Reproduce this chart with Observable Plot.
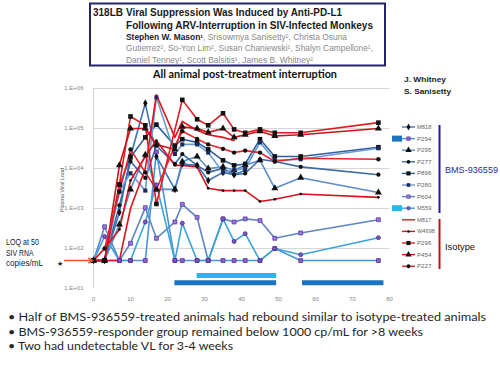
<!DOCTYPE html>
<html><head><meta charset="utf-8">
<script src="https://cdn.jsdelivr.net/npm/d3@7"></script>
<script src="https://cdn.jsdelivr.net/npm/@observablehq/plot@0.6"></script>
<style>
html,body{margin:0;padding:0;background:#fff;}
#page{position:relative;width:500px;height:373px;overflow:hidden;background:#fff;}
#chart{position:absolute;left:0;top:80px;}
#overlay{position:absolute;left:0;top:0;pointer-events:none;}
</style></head><body>
<div id="page"><div id="chart"></div><svg id="overlay" width="500" height="373"></svg></div>
<script>
// ---------------- data ----------------
const days = [0, 3, 7, 10, 14, 17, 22, 24, 28, 31, 35, 38, 41, 45, 49, 56, 77];
const animals = ["M818","P294","P295","P277","P896","P280","P604","M559","M817","W4698","P296","P454","P227"];
const groups  = ["BMS-936559","BMS-936559","BMS-936559","BMS-936559","BMS-936559","BMS-936559","BMS-936559","BMS-936559","Isotype","Isotype","Isotype","Isotype","Isotype"];
const N = null;
const vlM818  = [50, 50, 800, 20000, 430000, 20000, 3000, 13000, 12000, 5000, 8000, 7000, 9000, N, N, N, N];
const vlP294  = [50, 50, 50, 50, 50, 26000, 50, 50, 50, 50, 50, 50, 50, 50, 100, 50, 50];
const vlP295  = [50, 50, 400, 3000, 22000, 3000, 3000, 15000, 20000, 10000, 11000, 9000, 12000, 16000, 3200, 5900, 2500];
const vlP277  = [50, 50, 1200, 15000, 5800, 37000, 13000, 23000, 12000, 8000, 10000, 7000, 7500, 17000, 15000, 11000, 7000];
const vlP896  = [50, 50, 3900, 19000, 60000, 125000, 37000, 54000, 45000, 30000, 16000, 12000, 13000, 54000, 20000, 20000, 34000];
const vlP280  = [50, 50, 2700, 7600, 2800, 600000, 23000, 40000, 40000, 25000, 8000, 9000, 10000, 45000, 16000, 17000, 32000];
const vlP604  = [50, 350, 50, 135, 1050, 180, 460, 1270, 600, 50, 550, 460, 550, 500, 180, 245, 525];
const vlM559  = [50, 200, 50, 50, 460, 3900, 50, 430, 50, 50, 550, 150, 235, 50, 100, 70, 186];
const vlM817  = [50, 50, 50, 1000, 10000, 700000, 60000, 150000, 90000, 70000, 60000, 50000, N, N, N, N, N];
const vlW4698 = [50, 100, 300, 5000, 20000, 50000, 12000, 12000, 11000, 3200, 2800, 2800, 2800, 1500, 1700, 2300, 1900];
const vlP296  = [50, 50, 4000, 200000, 120000, 1300, N, 520000, 170000, 120000, 240000, 95000, 78000, 95000, 78000, 78000, 140000];
const vlP454  = [50, 50, 12000, 100000, 100000, 40000, 30000, 110000, 100000, 80000, 100000, 60000, 70000, 85000, 65000, 70000, 100000];
const vlP227  = [50, 100, 2600, 30000, 8000, 3000, 37000, 85000, 55000, 40000, 31000, 25000, 28000, 25000, 15000, 18000, 17000];
const series = [vlM818, vlP294, vlP295, vlP277, vlP896, vlP280, vlP604, vlM559, vlM817, vlW4698, vlP296, vlP454, vlP227];
const loq = 50;
const xTicks = [0, 10, 20, 30, 40, 50, 60, 70, 80];
const yTicks = [10, 100, 1000, 10000, 100000, 1000000];
const gridValues = [100, 1000, 10000, 100000, 1000000];
// periods of undetectable viral load (days)
const undetectAnimal = ["M559", "P294", "P294"];
const undetectStart  = [28, 22, 56.5];
const undetectEnd    = [49.5, 49.5, 78.5];

const titleLine1 = "Viral Suppression Was Induced by Anti-PD-L1";
const titleLine2 = "Following ARV-Interruption in SIV-Infected Monkeys";
const authorLead = "Stephen W. Mason¹";
const authors3 = ", Srisowmya Sanisetty², Christa Osuna";
const authors4 = "Gutierrez², So-Yon Lim², Susan Chaniewski¹, Shalyn Campellone¹,";
const authors5 = "Daniel Tenney¹, Scott Balsitis¹, James B. Whitney²";
const heading = "All animal post-treatment interruption";
const credits = ["J. Whitney", "S. Sanisetty"];
const loqNote = ["LOQ at 50", "SIV RNA", "copies/mL"];
const bullets = [
  "• Half of BMS-936559-treated animals had rebound similar to isotype-treated animals",
  "• BMS-936559-responder group remained below 1000 cp/mL for >8 weeks",
  "• Two had undetectable VL for 3-4 weeks"
];

// ---------------- styles ----------------
const style = {
  M818:  {line:"#3f73b8", symbol:"diamond",  fill:"#111", r:2.3},
  P294:  {line:"#4b93d8", symbol:"square",   fill:"#8a63cf", stroke:"#5a2f9e", r:2.2},
  P295:  {line:"#5b8dc9", symbol:"triangle", fill:"#111", r:2.6},
  P277:  {line:"#3c6aa6", symbol:"circle",   fill:"#111", r:2.1},
  P896:  {line:"#2f5f9f", symbol:"square",   fill:"#111", r:2.6},
  P280:  {line:"#6a9ad3", symbol:"square",   fill:"#1c2a5a", r:2.3},
  P604:  {line:"#5d84c4", symbol:"square",   fill:"#9a78d8", stroke:"#5e3aa6", r:2.2},
  M559:  {line:"#3aa3dc", symbol:"circle",   fill:"#7e56c6", stroke:"#4a2a8a", r:2.0},
  M817:  {line:"#e3131c", symbol:null},
  W4698: {line:"#d9121b", symbol:"circle",   fill:"#111", r:1.4},
  P296:  {line:"#e01a22", symbol:"square",   fill:"#111", r:2.6},
  P454:  {line:"#cf1119", symbol:"triangle", fill:"#111", r:2.6},
  P227:  {line:"#e5232b", symbol:"circle",   fill:"#111", r:2.2}
};
const barColor = {M559:"#2cb5e8", P294:"#1a73bd"};
const barLevel = {M559:21, P294:14};

// ---------------- build table ----------------
const rows = [];
animals.forEach((a, i) => series[i].forEach((v, j) => {
  if (v != null) rows.push({animal: a, group: groups[i], day: days[j], vl: v});
}));
const bars = undetectAnimal.map((a, i) => ({animal: a, start: undetectStart[i], end: undetectEnd[i]}));

const lineMarks = [];
const order = animals.map((a, i) => i).sort((a, b) => (groups[a] === "Isotype") - (groups[b] === "Isotype"));
for (const i of order) {
  const a = animals[i];
  lineMarks.push(Plot.line(rows.filter(d => d.animal === a), {x: "day", y: "vl", stroke: style[a].line, strokeWidth: 1.6}));
}
const dotMarks = [];
for (const i of order) {
  const a = animals[i], s = style[a];
  if (!s.symbol) continue;
  dotMarks.push(Plot.dot(rows.filter(d => d.animal === a), {x: "day", y: "vl", symbol: s.symbol, r: s.r, fill: s.fill, stroke: s.stroke || "none", strokeWidth: 0.8}));
}
const barMarks = Object.keys(barColor).map(a =>
  Plot.ruleY(bars.filter(b => b.animal === a), {x1: "start", x2: "end", y: barLevel[a], stroke: barColor[a], strokeWidth: 5}));

const chart = Plot.plot({
  width: 500, height: 232,
  marginLeft: 93, marginRight: 111, marginTop: 8, marginBottom: 24,
  style: {background: "transparent", fontFamily: "Liberation Sans, Arial, sans-serif", fontSize: "6px", color: "#858585", overflow: "visible"},
  x: {domain: [0, 80], ticks: xTicks, tickSize: 0, tickPadding: 8, label: null, tickFormat: d => String(d)},
  y: {type: "log", domain: [10, 1000000], ticks: yTicks, tickSize: 0, tickPadding: 10, label: null,
      tickFormat: d => "1.E+0" + Math.round(Math.log10(d))},
  marks: [
    Plot.ruleY(gridValues, {stroke: "#d6d6d6", strokeWidth: 1}),
    Plot.ruleX([0], {stroke: "#d0d0d0", strokeWidth: 1}),
    ...barMarks,
    ...lineMarks,
    ...dotMarks,
    Plot.arrow([loq], {x1: -7.8, x2: -0.2, y1: d => d, y2: d => d, stroke: "#e55a2b", strokeWidth: 1.4, headLength: 5})
  ]
});
document.getElementById("chart").appendChild(chart);

// ---------------- overlay (title, legend, notes) ----------------
const ov = d3.select("#overlay");
function txt(x, y, s, o = {}) {
  const t = ov.append("text").attr("x", x).attr("y", y)
    .attr("font-family", o.family || "Liberation Sans, Arial, sans-serif")
    .attr("font-size", o.size || 10).attr("font-weight", o.weight || "normal")
    .attr("fill", o.fill || "#222").attr("text-anchor", o.anchor || "start");
  if (typeof s === "string") t.text(s);
  else s.forEach(p => t.append("tspan").attr("fill", p.fill).attr("font-weight", p.weight || null).text(p.text));
  if (o.w) t.attr("textLength", o.w).attr("lengthAdjust", "spacingAndGlyphs");
  if (o.transform) t.attr("transform", o.transform);
  return t;
}
// title box
ov.append("rect").attr("x", 90).attr("y", 3.5).attr("width", 295).attr("height", 62)
  .attr("fill", "none").attr("stroke", "#25256f").attr("stroke-width", 2);
const narrow = "Liberation Sans Narrow, Arial Narrow, Liberation Sans, Arial, sans-serif";
txt(93, 15.5, "318LB", {family: narrow, size: 11.5, weight: "bold", w: 30, fill: "#1a1a1a"});
txt(126, 15.5, titleLine1, {family: narrow, size: 11.5, weight: "bold", w: 216, fill: "#1a1a1a"});
txt(126, 28.5, titleLine2, {family: narrow, size: 11.5, weight: "bold", w: 247, fill: "#1a1a1a"});
txt(126, 39.5, [{text: authorLead, fill: "#222", weight: "bold"}, {text: authors3, fill: "#8a8a8a"}], {family: narrow, size: 8.5, w: 221});
txt(126, 51, authors4, {family: narrow, size: 8.5, w: 247, fill: "#8a8a8a"});
txt(126, 62.5, authors5, {family: narrow, size: 8.5, w: 187, fill: "#8a8a8a"});
// heading and credits
txt(153, 77.5, heading, {family: "Lato, Open Sans, sans-serif", size: 10.5, weight: "bold", w: 184, fill: "#111"});
txt(404, 82, credits[0], {size: 8, weight: "bold", w: 42, fill: "#222"});
txt(404, 93.5, credits[1], {size: 8, weight: "bold", w: 47, fill: "#222"});
// y label
txt(0, 0, "Plasma Viral Load", {size: 5.5, fill: "#555", anchor: "middle", w: 44, transform: "translate(63.5,190) rotate(-90)"});
// LOQ note
txt(6, 245, loqNote[0], {size: 9, w: 33, fill: "#1a1a1a"});
txt(6, 255.7, loqNote[1], {size: 9, w: 27.5, fill: "#1a1a1a"});
txt(6, 266, loqNote[2], {size: 9, w: 37, fill: "#1a1a1a"});
txt(60, 266, "★", {size: 6.5, anchor: "middle", fill: "#222"});
// legend
const symMap = {diamond: d3.symbolDiamond, square: d3.symbolSquare, triangle: d3.symbolTriangle, circle: d3.symbolCircle};
animals.forEach((a, i) => {
  const y = 127 + i * 11.6, s = style[a];
  if (barColor[a]) ov.append("rect").attr("x", 392).attr("y", y - 3).attr("width", 10).attr("height", 6).attr("fill", barColor[a]);
  ov.append("line").attr("x1", 402).attr("x2", 415).attr("y1", y).attr("y2", y).attr("stroke", s.line).attr("stroke-width", 1.4);
  if (s.symbol) ov.append("path").attr("transform", `translate(408.5,${y})`)
    .attr("d", d3.symbol(symMap[s.symbol], Math.PI * s.r * s.r * 0.8)())
    .attr("fill", s.fill).attr("stroke", s.stroke || "none").attr("stroke-width", 0.6);
  txt(417, y + 2, a, {size: 6, fill: "#666", w: a.length * 3.6});
});
ov.append("line").attr("x1", 439.5).attr("x2", 439.5).attr("y1", 125).attr("y2", 213).attr("stroke", "#1c1ca0").attr("stroke-width", 2);
ov.append("line").attr("x1", 439.5).attr("x2", 439.5).attr("y1", 219).attr("y2", 269).attr("stroke", "#c41010").attr("stroke-width", 2);
txt(445, 173, groups[0], {size: 9.5, fill: "#2b2b9c", w: 53});
txt(445, 249.5, groups[12], {size: 9.5, fill: "#111", w: 30});
// bullets
const bulletW = [478, 415, 225];
bullets.forEach((b, i) => txt(8, 321 + i * 14.6, b, {family: "Lato, Open Sans, sans-serif", size: 12, fill: "#262626", w: bulletW[i]}));
</script>
</body></html>
